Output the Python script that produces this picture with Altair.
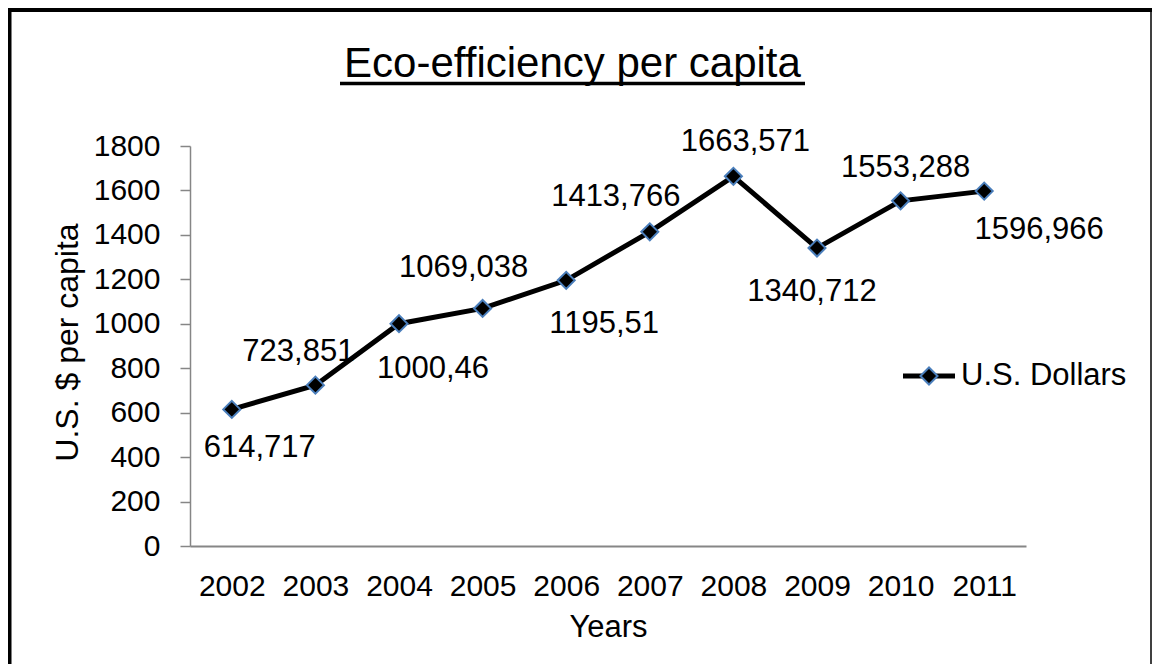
import altair as alt
import pandas as pd

# ---- data ----
years = ["2002", "2003", "2004", "2005", "2006", "2007", "2008", "2009", "2010", "2011"]
values = [614.717, 723.851, 1000.46, 1069.038, 1195.51, 1413.766, 1663.571, 1340.712, 1553.288, 1596.966]
labels = [str(v).replace(".", ",") for v in values]
y_ticks = [0, 200, 400, 600, 800, 1000, 1200, 1400, 1600, 1800]
series_name = "U.S. Dollars"
chart_title = "Eco-efficiency per capita"

# ---- layout / style (pixel offsets of data labels relative to their point) ----
label_offsets = [(28, 39), (-17, -33), (34, 45), (-19, -40), (38, 44),
                 (-34, -35), (12, -34), (-5, 44), (5, -33), (55, 39)]

FONT = "Liberation Sans"
GRAY = "#868686"
MARKER_STROKE = "#4a7ebb"
W, H = 836, 400

df = pd.DataFrame({"Year": years, "Value": values, "Label": labels})
one = pd.DataFrame({"k": [0]})

x_enc = alt.X(
    "Year:O",
    scale=alt.Scale(type="point", padding=0.5),
    axis=alt.Axis(
        title="Years", labelAngle=0, ticks=False, grid=False,
        domainColor=GRAY, domainWidth=2,
        labelFont=FONT, labelFontSize=30, labelColor="black", labelPadding=25,
        titleFont=FONT, titleFontSize=31, titleFontWeight="normal", titleColor="black",
        titleY=66, titleBaseline="top",
    ),
)
y_enc = alt.Y(
    "Value:Q",
    scale=alt.Scale(domain=[0, 1800], nice=False, zero=True),
    axis=alt.Axis(
        title="U.S. $ per capita", values=y_ticks, format="d", grid=False,
        tickSize=10, tickColor=GRAY, tickWidth=1.5,
        domainColor=GRAY, domainWidth=1.5,
        labelFont=FONT, labelFontSize=30, labelColor="black", labelPadding=20,
        titleFont=FONT, titleFontSize=32, titleFontWeight="normal", titleColor="black",
        titleX=-113, titleY=196, titleBaseline="alphabetic", titleAngle=270, titleAlign="center",
    ),
)

base = alt.Chart(df)
line = base.mark_line(color="black", strokeWidth=5).encode(x=x_enc, y=y_enc)
pts = base.mark_point(shape="diamond", filled=True, fill="black", stroke=MARKER_STROKE,
                      strokeWidth=2, size=290, opacity=1).encode(x=x_enc, y=y_enc)

text_layers = []
for yr, (dx, dy) in zip(years, label_offsets):
    text_layers.append(
        base.transform_filter(alt.datum.Year == yr)
        .mark_text(dx=dx, dy=dy, fontSize=31, font=FONT, color="black",
                   align="center", baseline="middle")
        .encode(x=x_enc, y=y_enc, text="Label:N")
    )

deco = alt.Chart(one)
title_txt = deco.mark_text(text=chart_title, fontSize=42, font=FONT, color="black",
                           align="center", baseline="alphabetic").encode(
    x=alt.value(382.5), y=alt.value(-69))
underline = deco.mark_rule(color="black", strokeWidth=3.5).encode(
    x=alt.value(150), x2=alt.value(615), y=alt.value(-62.5))

frame_left = deco.mark_rule(color="black", strokeWidth=4).encode(
    x=alt.value(-180.5), y=alt.value(-140), y2=alt.value(540))
frame_top = deco.mark_rule(color="black", strokeWidth=4).encode(
    x=alt.value(-185), x2=alt.value(965), y=alt.value(-136))
frame_right = deco.mark_rule(color="black", strokeWidth=1.5).encode(
    x=alt.value(961), y=alt.value(-140), y2=alt.value(540))

leg_line = deco.mark_rule(color="black", strokeWidth=5).encode(
    x=alt.value(713), x2=alt.value(765), y=alt.value(230))
leg_pt = deco.mark_point(shape="diamond", filled=True, fill="black", stroke=MARKER_STROKE,
                         strokeWidth=2, size=290, opacity=1).encode(
    x=alt.value(739), y=alt.value(230))
leg_txt = deco.mark_text(text=series_name, fontSize=31, font=FONT, color="black",
                         align="left", baseline="middle").encode(
    x=alt.value(771), y=alt.value(230))

chart = alt.layer(
    line, pts, *text_layers,
    title_txt, underline, frame_left, frame_top, frame_right,
    leg_line, leg_pt, leg_txt,
).properties(
    width=W, height=H,
    autosize=alt.AutoSizeParams(type="none"),
    padding={"left": 182, "top": 138, "right": 126, "bottom": 118},
    background="white",
).configure(font=FONT).configure_view(stroke="transparent", strokeWidth=0)

chart.save("out.html", embed_options={"renderer": "svg", "actions": False})
